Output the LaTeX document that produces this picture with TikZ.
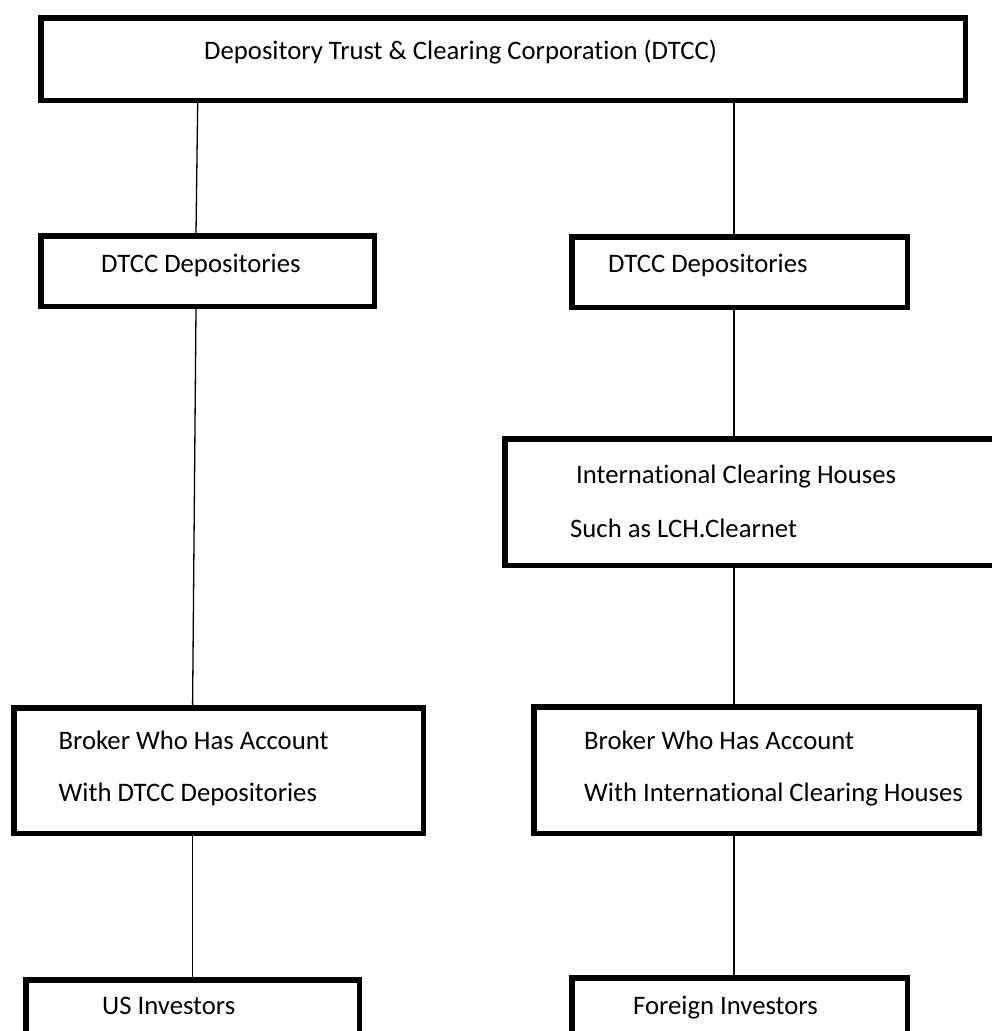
\documentclass[tikz,border=0pt]{standalone}
\usepackage{fontspec}
\setmainfont{Carlito}[Ligatures=NoCommon,RawFeature={-liga;-clig}]
\begin{document}
\begin{tikzpicture}[x=1pt,y=-1pt,
  box/.style={draw=black, line width=5.5pt, fill=white, rectangle, inner sep=0pt},
  lbl/.style={anchor=base west, inner sep=0pt, font=\fontsize{26.7}{32}\selectfont, text=black},
  conn/.style={draw=black, line width=1.3pt}]
\path[use as bounding box, clip] (0,0) rectangle (992,1031);
\fill[white] (0,0) rectangle (992,1031);
% boxes
\node[box, minimum width=924.5pt, minimum height=82.5pt] (top) at (503,59) {};
\node[box, minimum width=333.5pt, minimum height=70.5pt] (dtccL) at (207.5,271) {};
\node[box, minimum width=335.5pt, minimum height=70.5pt] (dtccR) at (739.5,272) {};
\node[box, minimum width=502.5pt, minimum height=126.5pt] (ich) at (756,502) {};
\node[box, minimum width=409.5pt, minimum height=125.5pt] (brokerL) at (218.5,770.5) {};
\node[box, minimum width=445.5pt, minimum height=126.5pt] (brokerR) at (756.5,770) {};
\node[box, minimum width=333.5pt, minimum height=77.5pt] (usInv) at (192.5,1018.5) {};
\node[box, minimum width=335.5pt, minimum height=79.5pt] (forInv) at (739.5,1017.5) {};
% texts
\node[lbl] (tTop) at (204,59) {Depository Trust \& Clearing Corporation (DTCC)};
\node[lbl] (tDL) at (101,272) {DTCC Depositories};
\node[lbl] (tDR) at (608,272) {DTCC Depositories};
\node[lbl] (tI1) at (576,483) {International Clearing Houses};
\node[lbl] (tI2) at (570,537) {Such as LCH.Clearnet};
\node[lbl] (tBL1) at (58.5,749) {Broker Who Has Account};
\node[lbl] (tBL2) at (58.5,801) {With DTCC Depositories};
\node[lbl] (tBR1) at (584,749) {Broker Who Has Account};
\node[lbl] (tBR2) at (584,801) {With International Clearing Houses};
\node[lbl] (tUS) at (102,1014) {US Investors};
\node[lbl] (tFI) at (633,1014) {Foreign Investors};
% connectors
\draw[conn] ([xshift=-305.3pt]top.south) -- ([xshift=-11.5pt]dtccL.north);
\draw[conn] ([xshift=-11.5pt]dtccL.south) -- ([xshift=-25.9pt]brokerL.north);
\draw[conn] ([xshift=-26pt]brokerL.south) -- (usInv.north);
\draw[conn] ([xshift=231pt]top.south) -- ([xshift=-5.5pt]dtccR.north);
\draw[conn] ([xshift=-5.5pt]dtccR.south) -- ([xshift=-22pt]ich.north);
\draw[conn] ([xshift=-22pt]ich.south) -- ([xshift=-22.5pt]brokerR.north);
\draw[conn] ([xshift=-22.5pt]brokerR.south) -- ([xshift=-5.5pt]forInv.north);
\end{tikzpicture}
\end{document}
